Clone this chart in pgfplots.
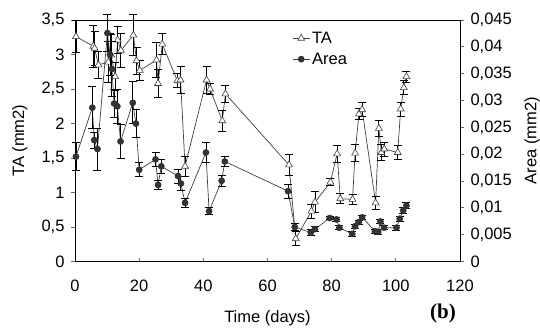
\documentclass[border=0pt]{standalone}
\usepackage{pgfplots}
\pgfplotsset{compat=1.18}
\usepackage{pgfplotstable}
\usepackage{fontspec}
\setmainfont{Liberation Sans}
\newfontfamily\serifb{Liberation Serif}

\pgfplotstableread{
x y e
0.3 3.26 0.23
5.7 3.12 0.30
6.1 3.09 0.25
7.3 2.85 0.20
10.4 2.89 0.30
11.3 2.99 0.30
12.5 2.68 0.20
13.3 3.21 0.20
14.3 3.06 0.25
18.2 3.28 0.30
19.2 2.91 0.20
20.2 2.77 0.15
25.4 2.92 0.25
25.9 2.58 0.20
27.2 3.15 0.15
31.9 2.62 0.10
32.9 2.63 0.20
34.3 1.38 0.15
41.0 2.63 0.20
42.1 2.50 0.08
45.9 2.04 0.15
46.9 2.43 0.12
66.7 1.40 0.15
68.8 0.33 0.10
73.7 0.73 0.10
74.8 0.86 0.15
79.6 1.15 0.05
81.7 1.56 0.12
82.7 0.91 0.07
86.5 0.90 0.07
87.3 1.57 0.12
88.5 2.14 0.08
89.5 2.20 0.10
93.7 0.85 0.10
94.7 1.93 0.12
95.5 1.58 0.12
96.4 1.63 0.10
100.6 1.58 0.10
101.5 2.21 0.10
102.5 2.52 0.10
103.3 2.68 0.08
}\tadata

\pgfplotstableread{
x y e
0.3 0.01954 0.0026
5.4 0.02867 0.0039
6.0 0.02263 0.0015
7.0 0.02096 0.0039
10.1 0.04256 0.0035
10.9 0.03857 0.0039
11.5 0.03587 0.0051
12.2 0.02944 0.0026
13.2 0.02893 0.0032
14.2 0.02237 0.0032
18.0 0.02957 0.0039
19.0 0.02571 0.0026
20.0 0.01710 0.0013
25.1 0.01903 0.0013
25.9 0.01427 0.0009
26.9 0.01774 0.0013
32.1 0.01594 0.0013
33.0 0.01453 0.0013
34.3 0.01093 0.0009
40.8 0.02031 0.0019
41.8 0.00939 0.0006
45.7 0.01504 0.0010
46.7 0.01864 0.0009
66.4 0.01311 0.0013
68.5 0.00643 0.0006
73.5 0.00540 0.0005
74.8 0.00604 0.0005
79.4 0.00810 0.0003
81.5 0.00784 0.0003
82.4 0.00630 0.0004
86.4 0.00514 0.0004
87.3 0.00656 0.0004
88.4 0.00733 0.0004
89.5 0.00823 0.0004
93.5 0.00566 0.0004
94.5 0.00553 0.0004
95.2 0.00746 0.0004
96.3 0.00630 0.0004
100.2 0.00630 0.0005
101.2 0.00797 0.0005
102.3 0.00951 0.0006
103.3 0.01041 0.0006
}\areadata

\pgfplotsset{
  common/.style={
    at={(0pt,0pt)}, anchor=south west,
    width=385pt, height=241.5pt, scale only axis,
    xmin=0, xmax=120, clip=false,
    tick label style={font=\fontsize{16.5}{18}\selectfont},
    label style={font=\fontsize{16.5}{18}\selectfont},
    /pgf/number format/assume math mode=true,
    /pgf/number format/use comma,
    major tick length=4pt,
    axis line style={black, line width=0.8pt},
    every tick/.style={black!60, line width=0.8pt},
  },
  errs/.style={
    error bars/.cd, y dir=both, y explicit,
    error bar style={black, line width=0.8pt},
    error mark options={rotate=90, mark size=4pt, black, line width=0.8pt},
  }
}

\begin{document}
\begin{tikzpicture}
\path[use as bounding box] (-75pt,-66pt) rectangle (465pt,261.5pt);
\begin{axis}[common,
  ymin=0, ymax=3.5,
  xtick={0,20,...,120},
  ytick={0,0.5,1,1.5,2,2.5,3,3.5},
  xtick pos=bottom, ytick pos=left,
  xtick align=inside, ytick align=outside,
  xticklabel style={yshift=-15pt},
  yticklabel style={xshift=-3pt},
  xlabel={Time (days)}, ylabel={TA (mm2)},
  xlabel style={at={(axis description cs:0.5,-0.236)}, anchor=center},
  ylabel style={at={(axis description cs:-0.143,0.5)}, anchor=center},
  legend style={draw=none, fill=none, at={(rel axis cs:0.564,0.96)}, anchor=north west,
    font=\fontsize{16.5}{18}\selectfont, row sep=4pt, inner sep=0pt},
  legend cell align=left,
]
\addplot[black!75, line width=0.7pt, mark=triangle*, mark size=4pt,
  mark options={fill=white, draw=black!75, line width=0.6pt}, errs]
  table[x=x, y=y, y error=e] {\tadata};
\addlegendentry{TA}
\addlegendimage{black!75, line width=0.7pt, mark=*, mark size=3pt, mark options={fill=black!80, draw=black!80}}
\addlegendentry{Area}
\end{axis}
\begin{axis}[common,
  ymin=0, ymax=0.045,
  ytick={0,0.005,0.01,0.015,0.02,0.025,0.03,0.035,0.04,0.045},
  scaled y ticks=false,
  yticklabel style={/pgf/number format/fixed, /pgf/number format/precision=3, xshift=3pt},
  axis y line*=right, axis x line=none,
  ytick align=outside,
  ylabel={Area (mm2)},
  ylabel style={at={(axis description cs:1.187,0.5)}, anchor=center},
]
\addplot[black!75, line width=0.7pt, mark=*, mark size=3pt,
  mark options={fill=black!80, draw=black!80}, errs]
  table[x=x, y=y, y error=e] {\areadata};
\end{axis}
\draw[black, line width=0.8pt] (0pt,241.5pt) -- (385pt,241.5pt);
\node[font=\serifb\bfseries\fontsize{21}{23}\selectfont] at (368pt,-52pt) {(b)};
\end{tikzpicture}
\end{document}
